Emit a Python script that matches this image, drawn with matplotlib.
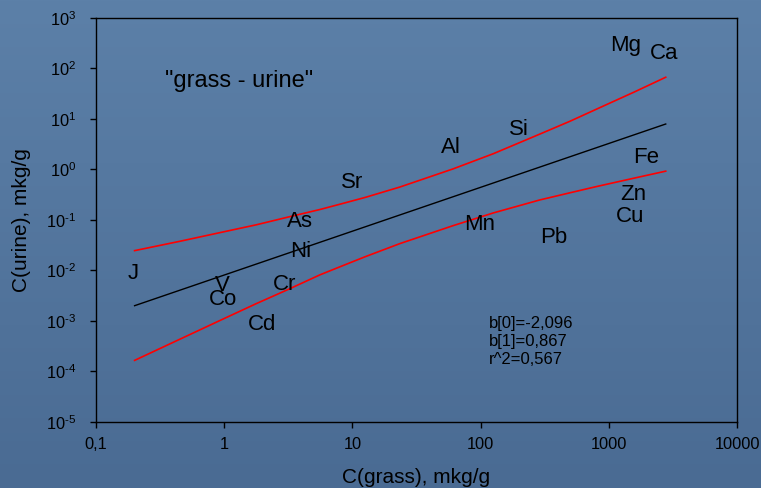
import numpy as np
import matplotlib
matplotlib.use("Agg")
import matplotlib.pyplot as plt
from matplotlib.ticker import FixedLocator, FixedFormatter, NullLocator

plt.rcParams['font.family'] = ['Liberation Sans', 'DejaVu Sans']
plt.rcParams['mathtext.fontset'] = 'custom'
plt.rcParams['mathtext.rm'] = 'Liberation Sans'
plt.rcParams['mathtext.it'] = 'Liberation Sans'
plt.rcParams['mathtext.default'] = 'regular'

# ---------------- data ----------------
elements = ['J', 'As', 'Ni', 'V', 'Co', 'Cr', 'Cd', 'Sr', 'Al', 'Si', 'Mn',
            'Mg', 'Ca', 'Fe', 'Zn', 'Cu', 'Pb']
c_grass = [0.195, 3.90, 3.97, 0.973, 0.973, 2.94, 1.96, 9.88, 58.8, 199, 97.7,
           1362, 2711, 1950, 1552, 1462, 369]
c_urine = [0.00968, 0.1026, 0.0261, 0.00550, 0.0030, 0.00594, 0.00093, 0.617,
           3.04, 6.82, 0.0918, 316, 225, 1.93, 0.361, 0.1306, 0.0501]

# regression line (endpoints)
fit_x = [0.2, 2780]
fit_y = [0.00199, 7.93]

# 95% confidence band
band_x = [0.2, 0.447, 1.0, 1.78, 3.15, 5.58, 8.0, 12.6, 23.5, 61, 126, 290,
          501, 809, 1585, 2780]
band_upper = [0.02455, 0.03741, 0.05821, 0.0798, 0.1135, 0.1603, 0.2042,
              0.2786, 0.4477, 1.023, 2.051, 5.012, 9.057, 15.78, 34.28, 66.99]
band_lower = [0.0001641, 0.0004266, 0.001109, 0.002188, 0.004169, 0.008128,
              0.01175, 0.01862, 0.03388, 0.07674, 0.1374, 0.2483, 0.3451,
              0.4592, 0.673, 0.9226]

x_ticks = [0.1, 1, 10, 100, 1000, 10000]
x_tick_labels = ['0,1', '1', '10', '100', '1000', '10000']
y_exponents = [-5, -4, -3, -2, -1, 0, 1, 2, 3]

stats_text = "b[0]=-2,096\nb[1]=0,867\nr^2=0,567"
title_text = '"grass - urine"'

# ---------------- figure ----------------
W, H = 761, 488
fig = plt.figure(figsize=(W / 100, H / 100), dpi=100)

# background gradient
bg = fig.add_axes([0, 0, 1, 1], zorder=-10)
top = np.array([92, 128, 168]) / 255.0
bot = np.array([74, 107, 147]) / 255.0
t = np.linspace(0, 1, 256)[:, None, None]
grad = top[None, None, :] * (1 - t) + bot[None, None, :] * t
grad = np.repeat(grad, 4, axis=1)
bg.imshow(grad, aspect='auto', extent=[0, 1, 0, 1])
bg.axis('off')

left, right = 96 / W, 737 / W
bottom, topp = 1 - 421.7 / H, 1 - 18 / H
ax = fig.add_axes([left, bottom, right - left, topp - bottom])
ax.set_facecolor('none')
ax.set_xscale('log')
ax.set_yscale('log')
ax.set_xlim(0.1, 10000)
ax.set_ylim(1e-5, 1e3)

for s in ax.spines.values():
    s.set_color('black')
    s.set_linewidth(1.0)

ax.xaxis.set_major_locator(FixedLocator(x_ticks))
ax.xaxis.set_major_formatter(FixedFormatter(x_tick_labels))
ax.xaxis.set_minor_locator(NullLocator())
y_ticks = [10.0 ** e for e in y_exponents]
y_labels = [r'$10^{%d}$' % e if e >= 0 else r'$10^{\text{-}%d}$' % (-e) for e in y_exponents]
ax.yaxis.set_major_locator(FixedLocator(y_ticks))
ax.yaxis.set_major_formatter(FixedFormatter(y_labels))
ax.yaxis.set_minor_locator(NullLocator())
ax.tick_params(axis='both', direction='out', length=4.3, width=1.0,
               colors='black', labelsize=11.8)
ax.tick_params(axis='x', pad=7.0)
ax.tick_params(axis='y', pad=10.0)

ax.set_xlabel('C(grass), mkg/g', fontsize=15)
ax.set_ylabel('C(urine), mkg/g', fontsize=15)
ax.xaxis.set_label_coords(0.5, -0.115)
ax.yaxis.label.set_va('center')
ax.yaxis.set_label_coords(-0.117, 0.5)

# lines
ax.plot(fit_x, fit_y, color='black', lw=1.0)
ax.plot(band_x, band_upper, color='#ff0000', lw=1.2)
ax.plot(band_x, band_lower, color='#ff0000', lw=1.2)

# element labels as the points
for name, gx, uy in zip(elements, c_grass, c_urine):
    ax.text(gx, uy, name, fontsize=16, ha='center', va='center_baseline',
            color='black')

ax.text(0.223, 0.843, title_text, transform=ax.transAxes, fontsize=17,
        ha='center', va='center', color='black')
ax.text(0.6136, 0.262, stats_text, transform=ax.transAxes, fontsize=12,
        ha='left', va='top', linespacing=1.25, color='black')

fig.savefig('out.png', dpi=100, facecolor=fig.get_facecolor())
